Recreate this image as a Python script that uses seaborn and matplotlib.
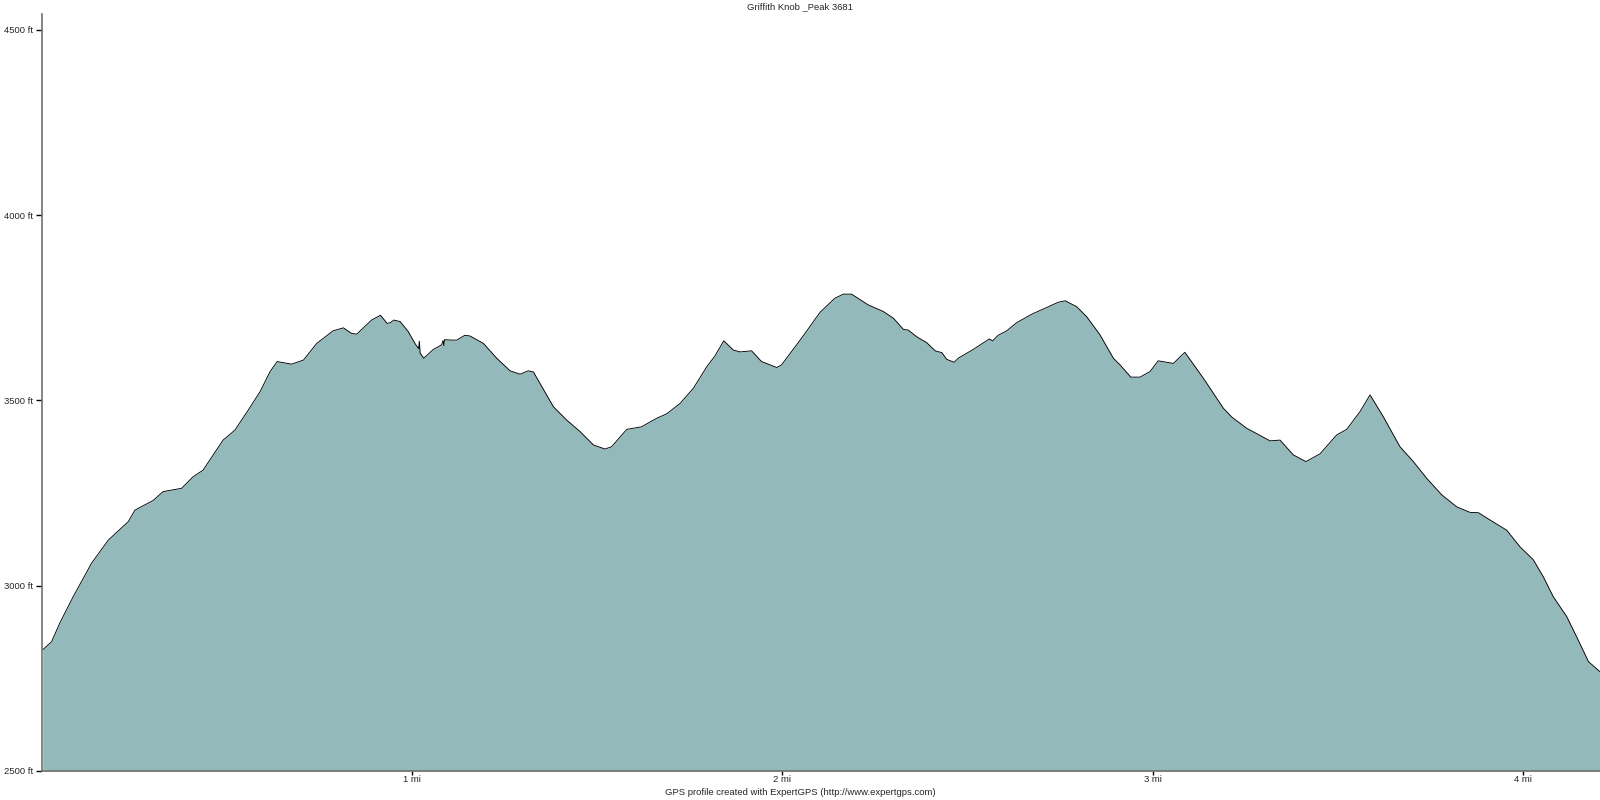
import matplotlib
matplotlib.use("Agg")
import matplotlib.pyplot as plt
import numpy as np
import pandas as pd
import seaborn as sns

# Profil d'altitude (distance en miles, altitude en pieds)
distance_mi = [0.003, 0.027, 0.049, 0.085, 0.135, 0.18, 0.234, 0.252, 0.301, 0.328,
               0.378, 0.409, 0.436, 0.49, 0.522, 0.558, 0.59, 0.617, 0.636, 0.675,
               0.707, 0.743, 0.787, 0.815, 0.837, 0.851, 0.891, 0.915, 0.933, 0.942,
               0.951, 0.968, 0.99, 1.008, 1.018, 1.02, 1.022, 1.032, 1.058, 1.08,
               1.084, 1.086, 1.088, 1.107, 1.121, 1.143, 1.157, 1.193, 1.229, 1.265,
               1.292, 1.314, 1.328, 1.382, 1.418, 1.454, 1.49, 1.521, 1.539, 1.58,
               1.62, 1.661, 1.688, 1.724, 1.76, 1.796, 1.818, 1.842, 1.868, 1.886,
               1.917, 1.944, 1.985, 1.998, 2.052, 2.102, 2.142, 2.165, 2.187, 2.232,
               2.273, 2.3, 2.327, 2.34, 2.363, 2.39, 2.413, 2.431, 2.444, 2.464,
               2.475, 2.516, 2.559, 2.568, 2.583, 2.606, 2.633, 2.674, 2.705, 2.745,
               2.764, 2.795, 2.822, 2.858, 2.894, 2.912, 2.941, 2.966, 2.993, 3.015,
               3.056, 3.087, 3.137, 3.191, 3.214, 3.254, 3.317, 3.344, 3.38, 3.414,
               3.452, 3.497, 3.524, 3.56, 3.587, 3.623, 3.668, 3.704, 3.74, 3.781,
               3.821, 3.857, 3.88, 3.915, 3.956, 3.992, 4.028, 4.055, 4.082, 4.118,
               4.145, 4.177, 4.208]
altitude_ft = [2827, 2849, 2899, 2970, 3061, 3123, 3173, 3204, 3230, 3254,
               3263, 3294, 3312, 3393, 3420, 3474, 3524, 3578, 3605, 3598,
               3609, 3654, 3688, 3696, 3681, 3679, 3717, 3730, 3708, 3710,
               3717, 3713, 3686, 3654, 3640, 3660, 3628, 3614, 3638, 3650,
               3662, 3648, 3664, 3663, 3663, 3676, 3674, 3654, 3614, 3580,
               3571, 3580, 3577, 3483, 3447, 3416, 3380, 3369, 3375, 3422,
               3429, 3452, 3464, 3492, 3533, 3591, 3620, 3661, 3636, 3631,
               3634, 3605, 3589, 3596, 3668, 3738, 3776, 3787, 3787, 3758,
               3740, 3722, 3692, 3690, 3672, 3656, 3634, 3629, 3611, 3603,
               3614, 3638, 3666, 3661, 3676, 3688, 3710, 3733, 3747, 3765,
               3769, 3753, 3726, 3677, 3614, 3596, 3563, 3563, 3578, 3607,
               3600, 3630, 3560, 3479, 3455, 3425, 3391, 3393, 3353, 3335,
               3356, 3407, 3422, 3470, 3515, 3456, 3375, 3335, 3290, 3245,
               3213, 3198, 3197, 3175, 3150, 3105, 3070, 3024, 2970, 2917,
               2862, 2795, 2768]

y_ticks = [2500, 3000, 3500, 4000, 4500]
x_ticks = [1, 2, 3, 4]
titre = "Griffith Knob _Peak 3681"
credit = "GPS profile created with ExpertGPS (http://www.expertgps.com)"

df = pd.DataFrame({"distance": distance_mi, "altitude": altitude_ft})

sns.set_style("white")
plt.rcParams['font.family'] = ['Liberation Sans', 'DejaVu Sans']

fig = plt.figure(figsize=(16, 8), dpi=100)
ax = fig.add_axes([0.026, 0.03625, 0.974, 0.94625])

ax.fill_between(df["distance"], df["altitude"], 2500, color="#94b9ba", linewidth=0)
sns.lineplot(data=df, x="distance", y="altitude", color="black", linewidth=0.65, ax=ax)

ax.set_xlim(0, 4.208)
ax.set_ylim(2500, 4543)
ax.set_xticks(x_ticks)
ax.set_xticklabels([f"{v} mi" for v in x_ticks])
ax.set_yticks(y_ticks)
ax.set_yticklabels([f"{v} ft" for v in y_ticks])
ax.tick_params(axis="both", direction="out", length=4, width=1, color="black",
               labelsize=6.8, left=True, bottom=True)
ax.tick_params(axis="y", pad=2)
ax.tick_params(axis="x", pad=0, length=3)
ax.set_xlabel("")
ax.set_ylabel("")

for s in ["top", "right"]:
    ax.spines[s].set_visible(False)
for s in ["left", "bottom"]:
    ax.spines[s].set_color("#707070")
    ax.spines[s].set_linewidth(1.2)

fig.text(0.5, 0.9915, titre, ha="center", va="center", fontsize=6.8)
fig.text(0.5, 0.009, credit, ha="center", va="center", fontsize=6.8)

fig.savefig("out.png", dpi=100)
